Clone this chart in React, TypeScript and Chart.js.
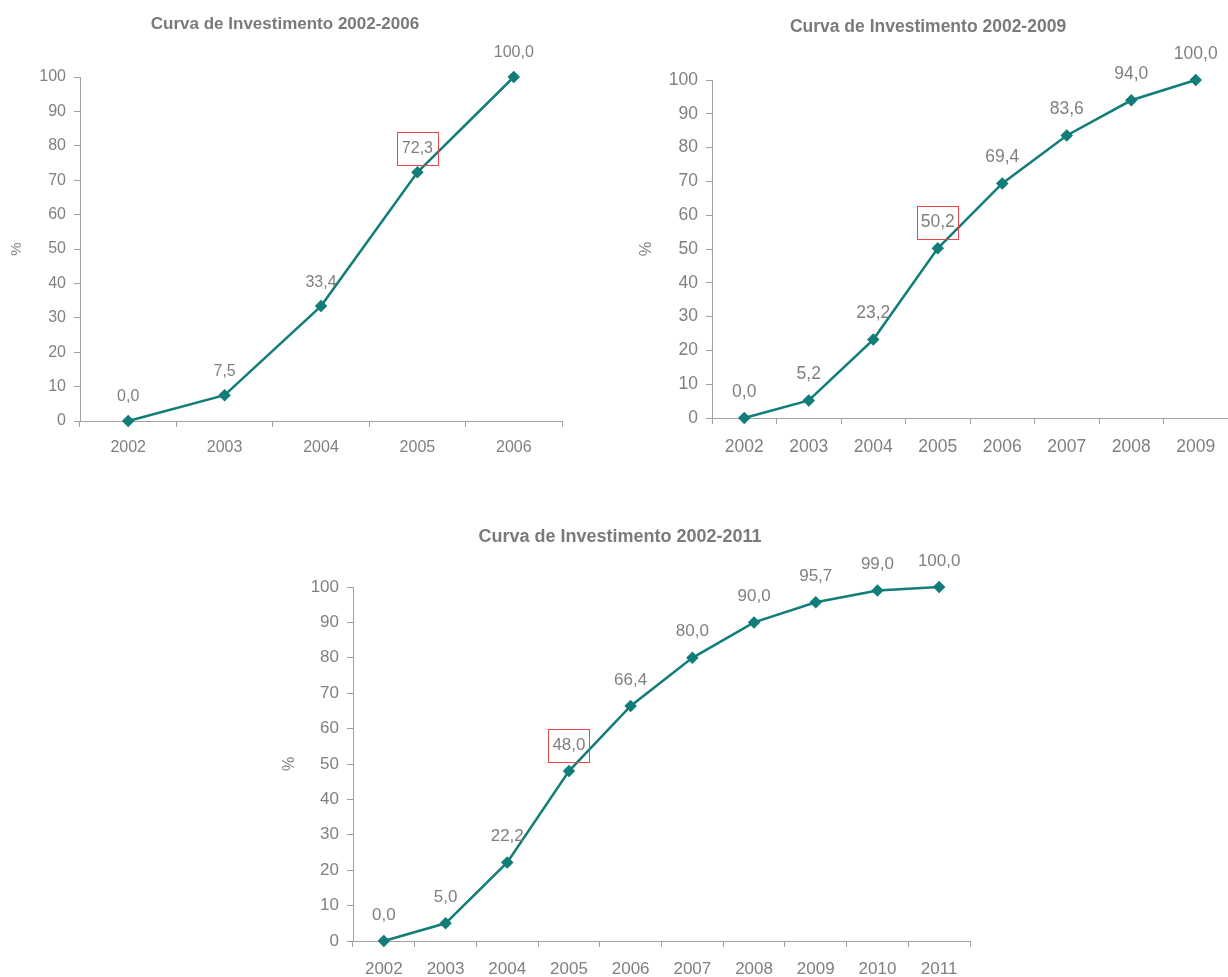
import React, { useEffect, useRef } from 'react';
import { Chart, registerables } from 'chart.js';

Chart.register(...registerables);

// ---------- data ----------
const years1 = ['2002', '2003', '2004', '2005', '2006'];
const values1 = [0, 7.5, 33.4, 72.3, 100];
const title1 = 'Curva de Investimento 2002-2006';
const boxed1 = 3;

const years2 = ['2002', '2003', '2004', '2005', '2006', '2007', '2008', '2009'];
const values2 = [0, 5.2, 23.2, 50.2, 69.4, 83.6, 94.0, 100];
const title2 = 'Curva de Investimento 2002-2009';
const boxed2 = 3;

const years3 = ['2002', '2003', '2004', '2005', '2006', '2007', '2008', '2009', '2010', '2011'];
const values3 = [0, 5.0, 22.2, 48.0, 66.4, 80.0, 90.0, 95.7, 99.0, 100];
const title3 = 'Curva de Investimento 2002-2011';
const boxed3 = 3;

const yAxisLabel = '%';
const yMin = 0;
const yMax = 100;
const yStep = 10;

// ---------- styles ----------
const LINE = '#127d79';
const GRAY = '#808080';
const TITLE_GRAY = '#7a7a7a';
const AXIS = '#a0a0a0';
const BOX = '#e8474a';
const FONT = '"Liberation Sans", Arial, sans-serif';

const customPlugin = {
  id: 'customDecor',
  afterDatasetsDraw(chart: any, _args: any, opts: any) {
    const ctx = chart.ctx;
    const meta = chart.getDatasetMeta(0);
    const vals = chart.data.datasets[0].data as number[];
    ctx.save();
    ctx.font = `${opts.labelSize}px ${FONT}`;
    ctx.fillStyle = GRAY;
    ctx.textAlign = 'center';
    ctx.textBaseline = 'middle';
    meta.data.forEach((pt: any, i: number) => {
      const txt = vals[i].toFixed(1).replace('.', ',');
      const x = pt.x;
      const y = pt.y - opts.labelOffset;
      ctx.fillText(txt, x, y);
      if (i === opts.boxed) {
        ctx.strokeStyle = BOX;
        ctx.lineWidth = 1;
        const w = opts.boxW, h = opts.boxH;
        ctx.strokeRect(Math.round(x - w / 2) + 0.5, Math.round(y - h / 2) + 0.5, w, h);
      }
    });
    ctx.restore();
  },
  afterDraw(chart: any, _args: any, opts: any) {
    const ctx = chart.ctx;
    ctx.save();
    ctx.font = `bold ${opts.titleSize}px ${FONT}`;
    ctx.fillStyle = TITLE_GRAY;
    ctx.textAlign = 'center';
    ctx.textBaseline = 'alphabetic';
    ctx.fillText(opts.title, opts.titleX, opts.titleY);
    ctx.restore();
  },
};

type PanelProps = {
  labels: string[];
  values: number[];
  title: string;
  boxed: number;
  left: number;
  top: number;
  width: number;
  height: number;
  pad: { left: number; right: number; top: number; bottom: number };
  yWidth: number;
  xHeight: number;
  fontSize: number;
  xPad: number;
  labelOffset: number;
  titleSize: number;
  titleX: number;
  titleY: number;
};

function Panel(p: PanelProps) {
  const ref = useRef<HTMLCanvasElement>(null);
  useEffect(() => {
    if (!ref.current) return;
    const chart = new Chart(ref.current, {
      type: 'line',
      data: {
        labels: p.labels,
        datasets: [
          {
            data: p.values,
            borderColor: LINE,
            backgroundColor: LINE,
            borderWidth: 2.5,
            pointStyle: 'rectRot',
            pointRadius: 4.5,
            pointBackgroundColor: LINE,
            pointBorderColor: LINE,
            tension: 0,
            clip: false as any,
          },
        ],
      },
      options: {
        animation: false,
        responsive: false,
        devicePixelRatio: 1,
        layout: { padding: p.pad },
        plugins: {
          legend: { display: false },
          title: { display: false },
          tooltip: { enabled: false },
          customDecor: {
            title: p.title,
            titleX: p.titleX,
            titleY: p.titleY,
            titleSize: p.titleSize,
            labelSize: p.fontSize,
            labelOffset: p.labelOffset,
            boxed: p.boxed,
            boxW: 41,
            boxH: 33,
          },
        } as any,
        scales: {
          x: {
            type: 'category',
            offset: true,
            grid: {
              offset: true,
              drawOnChartArea: false,
              drawTicks: true,
              tickLength: 6,
              color: AXIS,
            },
            border: { display: true, color: AXIS, width: 1 },
            ticks: {
              color: GRAY,
              font: { family: FONT, size: p.fontSize },
              padding: p.xPad,
              maxRotation: 0,
            },
            afterFit: (s: any) => {
              s.height = p.xHeight;
              s.paddingLeft = 0;
              s.paddingRight = 0;
            },
          },
          y: {
            min: yMin,
            max: yMax,
            grid: {
              drawOnChartArea: false,
              drawTicks: true,
              tickLength: 6,
              color: AXIS,
            },
            border: { display: true, color: AXIS, width: 1 },
            ticks: {
              stepSize: yStep,
              color: GRAY,
              font: { family: FONT, size: p.fontSize },
              padding: 8,
            },
            title: {
              display: true,
              text: yAxisLabel,
              color: GRAY,
              font: { family: FONT, size: p.fontSize - 1 },
            },
            afterFit: (s: any) => {
              s.width = p.yWidth;
            },
          },
        },
      },
      plugins: [customPlugin],
    });
    return () => chart.destroy();
  }, []);
  return (
    <canvas
      ref={ref}
      width={p.width}
      height={p.height}
      style={{ position: 'absolute', left: p.left, top: p.top, width: p.width, height: p.height }}
    />
  );
}

export default function App() {
  useEffect(() => {
    document.body.style.margin = '0';
  }, []);
  return (
    <div style={{ position: 'relative', width: 1228, height: 977, background: '#fff', overflow: 'hidden' }}>
      <Panel
        labels={years1}
        values={values1}
        title={title1}
        boxed={boxed1}
        left={0}
        top={0}
        width={600}
        height={470}
        pad={{ left: 4, right: 38, top: 77, bottom: 9 }}
        yWidth={76}
        xHeight={40}
        fontSize={16}
        xPad={11}
        labelOffset={24}
        titleSize={17}
        titleX={285}
        titleY={29}
      />
      <Panel
        labels={years2}
        values={values2}
        title={title2}
        boxed={boxed2}
        left={620}
        top={0}
        width={620}
        height={470}
        pad={{ left: 13, right: 12, top: 80, bottom: 12 }}
        yWidth={79}
        xHeight={40}
        fontSize={17.5}
        xPad={13}
        labelOffset={26}
        titleSize={17.5}
        titleX={308}
        titleY={32}
      />
      <Panel
        labels={years3}
        values={values3}
        title={title3}
        boxed={boxed3}
        left={260}
        top={490}
        width={740}
        height={487}
        pad={{ left: 16, right: 30, top: 97, bottom: 0 }}
        yWidth={77}
        xHeight={36}
        fontSize={17}
        xPad={12}
        labelOffset={26}
        titleSize={18}
        titleX={360}
        titleY={52}
      />
    </div>
  );
}
